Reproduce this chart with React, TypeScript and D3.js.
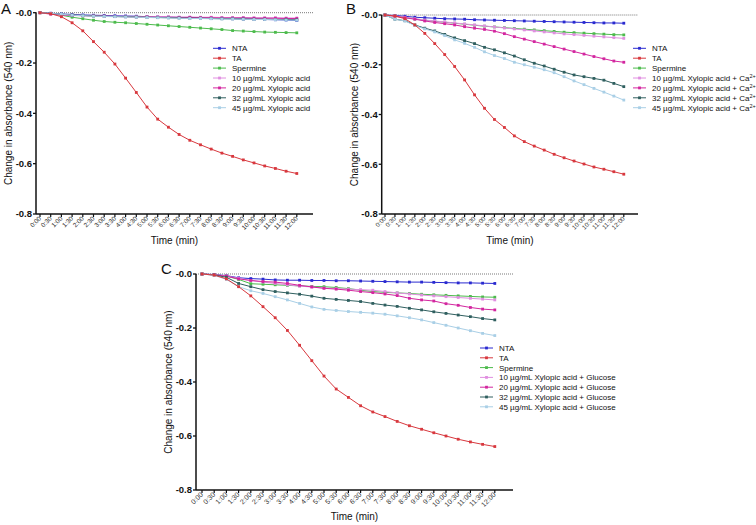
import React from 'react';
import * as d3 from 'd3';

const timeLabels = ['0:00','0:30','1:00','1:30','2:00','2:30','3:00','3:30','4:00','4:30','5:00','5:30','6:00','6:30','7:00','7:30','8:00','8:30','9:00','9:30','10:00','10:30','11:00','11:30','12:00'];
const yTicks = [0, -0.2, -0.4, -0.6, -0.8];
const yTickLabels = ['-0.0', '-0.2', '-0.4', '-0.6', '-0.8'];
const seriesNames = ['NTA', 'TA', 'Spermine', '10 µg/mL Xylopic acid', '20 µg/mL Xylopic acid', '32 µg/mL Xylopic acid', '45 µg/mL Xylopic acid'];
const seriesColors = ['#2a2ad0', '#d8383e', '#4cbb4c', '#e08ee0', '#d3269f', '#2f5f5f', '#a9cfe6'];

// Panel A
const ntaA = [0,-0.002,-0.005,-0.007,-0.009,-0.01,-0.011,-0.012,-0.013,-0.014,-0.016,-0.017,-0.018,-0.019,-0.02,-0.021,-0.022,-0.023,-0.024,-0.025,-0.026,-0.027,-0.028,-0.029,-0.031];
const taA = [0,-0.004,-0.016,-0.04,-0.072,-0.115,-0.157,-0.204,-0.26,-0.317,-0.375,-0.423,-0.455,-0.484,-0.507,-0.525,-0.542,-0.558,-0.571,-0.585,-0.597,-0.609,-0.619,-0.63,-0.639];
const spermA = [0,-0.004,-0.01,-0.018,-0.024,-0.03,-0.035,-0.038,-0.04,-0.043,-0.046,-0.049,-0.052,-0.055,-0.058,-0.061,-0.064,-0.067,-0.071,-0.073,-0.075,-0.077,-0.078,-0.079,-0.08];
const x10A = [0,-0.003,-0.007,-0.009,-0.011,-0.012,-0.013,-0.014,-0.014,-0.015,-0.015,-0.016,-0.016,-0.017,-0.017,-0.018,-0.018,-0.019,-0.019,-0.019,-0.02,-0.02,-0.02,-0.021,-0.021];
const x20A = [0,-0.006,-0.009,-0.011,-0.012,-0.013,-0.014,-0.015,-0.016,-0.017,-0.017,-0.018,-0.018,-0.019,-0.019,-0.02,-0.02,-0.021,-0.021,-0.021,-0.022,-0.022,-0.022,-0.023,-0.023];
const x32A = [0,-0.003,-0.006,-0.009,-0.011,-0.013,-0.014,-0.015,-0.016,-0.017,-0.018,-0.019,-0.02,-0.021,-0.022,-0.022,-0.023,-0.024,-0.024,-0.025,-0.026,-0.026,-0.027,-0.027,-0.028];
const x45A = [0,-0.003,-0.006,-0.01,-0.012,-0.014,-0.015,-0.016,-0.017,-0.018,-0.019,-0.02,-0.021,-0.022,-0.023,-0.023,-0.024,-0.025,-0.025,-0.026,-0.027,-0.027,-0.028,-0.029,-0.03];

// Panel B (+ Ca2+)
const ntaB = [0,-0.002,-0.005,-0.009,-0.011,-0.013,-0.015,-0.016,-0.017,-0.019,-0.02,-0.021,-0.022,-0.023,-0.024,-0.025,-0.026,-0.027,-0.028,-0.029,-0.03,-0.031,-0.032,-0.032,-0.033];
const taB = [0,-0.004,-0.015,-0.04,-0.074,-0.115,-0.159,-0.207,-0.261,-0.321,-0.375,-0.42,-0.452,-0.486,-0.509,-0.527,-0.543,-0.56,-0.574,-0.587,-0.599,-0.611,-0.62,-0.63,-0.64];
const spermB = [0,-0.004,-0.01,-0.016,-0.021,-0.025,-0.029,-0.033,-0.037,-0.041,-0.045,-0.048,-0.051,-0.054,-0.057,-0.06,-0.063,-0.066,-0.069,-0.071,-0.073,-0.075,-0.077,-0.079,-0.08];
const x10B = [0,-0.004,-0.009,-0.015,-0.02,-0.024,-0.028,-0.032,-0.036,-0.04,-0.044,-0.048,-0.052,-0.056,-0.06,-0.064,-0.068,-0.072,-0.076,-0.079,-0.082,-0.085,-0.088,-0.091,-0.094];
const x20B = [0,-0.005,-0.011,-0.017,-0.024,-0.03,-0.035,-0.04,-0.047,-0.053,-0.058,-0.065,-0.075,-0.087,-0.097,-0.107,-0.117,-0.127,-0.137,-0.147,-0.157,-0.167,-0.176,-0.185,-0.19];
const x32B = [0,-0.017,-0.023,-0.04,-0.053,-0.064,-0.078,-0.092,-0.103,-0.115,-0.13,-0.14,-0.152,-0.165,-0.18,-0.194,-0.205,-0.218,-0.23,-0.241,-0.248,-0.255,-0.262,-0.275,-0.288];
const x45B = [0,-0.017,-0.024,-0.042,-0.056,-0.068,-0.083,-0.1,-0.114,-0.13,-0.148,-0.163,-0.175,-0.19,-0.2,-0.21,-0.22,-0.232,-0.248,-0.265,-0.28,-0.295,-0.31,-0.326,-0.342];

// Panel C (+ Glucose)
const ntaC = [0,-0.002,-0.006,-0.014,-0.017,-0.019,-0.022,-0.023,-0.023,-0.024,-0.024,-0.025,-0.025,-0.026,-0.027,-0.028,-0.029,-0.03,-0.03,-0.031,-0.032,-0.033,-0.033,-0.034,-0.035];
const taC = [0,-0.004,-0.018,-0.047,-0.081,-0.121,-0.162,-0.209,-0.264,-0.321,-0.378,-0.426,-0.457,-0.488,-0.511,-0.528,-0.546,-0.562,-0.575,-0.588,-0.6,-0.612,-0.622,-0.631,-0.639];
const spermC = [0,-0.003,-0.008,-0.02,-0.036,-0.038,-0.04,-0.042,-0.044,-0.046,-0.047,-0.05,-0.054,-0.06,-0.065,-0.068,-0.07,-0.072,-0.075,-0.077,-0.079,-0.081,-0.083,-0.085,-0.086];
const x10C = [0,-0.003,-0.007,-0.016,-0.024,-0.03,-0.035,-0.04,-0.045,-0.048,-0.052,-0.054,-0.056,-0.058,-0.06,-0.065,-0.07,-0.074,-0.078,-0.081,-0.084,-0.087,-0.09,-0.093,-0.096];
const x20C = [0,-0.003,-0.008,-0.018,-0.024,-0.028,-0.03,-0.035,-0.042,-0.048,-0.053,-0.056,-0.06,-0.065,-0.069,-0.074,-0.08,-0.09,-0.096,-0.1,-0.11,-0.116,-0.124,-0.13,-0.133];
const x32C = [0,-0.004,-0.012,-0.035,-0.047,-0.058,-0.065,-0.07,-0.075,-0.082,-0.09,-0.094,-0.098,-0.102,-0.109,-0.115,-0.12,-0.127,-0.133,-0.14,-0.146,-0.152,-0.158,-0.165,-0.17];
const x45C = [0,-0.005,-0.02,-0.047,-0.062,-0.072,-0.084,-0.096,-0.109,-0.122,-0.131,-0.135,-0.139,-0.142,-0.145,-0.149,-0.155,-0.162,-0.17,-0.18,-0.19,-0.2,-0.21,-0.22,-0.228];

const FONT = '"Liberation Sans", Arial, Helvetica, sans-serif';

type PanelCfg = {
  letter: string;
  axisX: number; x0: number; x1: number; axisEnd: number;
  yTop: number; yBot: number;
  letterX: number; letterY: number;
  ylabelX: number; timeY: number;
  legX: number; legY: number; legDy: number;
  xTickFont: number;
  series: number[][];
  suffix: 'none' | 'ca' | 'glc';
};

const panels: PanelCfg[] = [
  { letter: 'A', axisX: 36, x0: 40, x1: 296.8, axisEnd: 313, yTop: 12.7, yBot: 214, letterX: 1, letterY: 14, ylabelX: 12, timeY: 244, legX: 213, legY: 48.3, legDy: 9.9, xTickFont: 6.4, series: [ntaA, taA, spermA, x10A, x20A, x32A, x45A], suffix: 'none' },
  { letter: 'B', axisX: 381.7, x0: 385, x1: 623.8, axisEnd: 638, yTop: 15, yBot: 214, letterX: 346, letterY: 14, ylabelX: 358, timeY: 244, legX: 633, legY: 48.3, legDy: 9.9, xTickFont: 6.2, series: [ntaB, taB, spermB, x10B, x20B, x32B, x45B], suffix: 'ca' },
  { letter: 'C', axisX: 196, x0: 202, x1: 494.8, axisEnd: 513, yTop: 274, yBot: 490, letterX: 161, letterY: 274, ylabelX: 172, timeY: 520, legX: 480, legY: 348, legDy: 9.8, xTickFont: 7, series: [ntaC, taC, spermC, x10C, x20C, x32C, x45C], suffix: 'glc' },
];

function LegendLabel({ name, idx, suffix }: { name: string; idx: number; suffix: string }) {
  if (idx < 3 || suffix === 'none') return <>{name}</>;
  if (suffix === 'glc') return <>{name + ' + Glucose'}</>;
  return (
    <>
      {name + ' + Ca'}
      <tspan fontSize={5.5} dy={-3}>2+</tspan>
    </>
  );
}

function Panel({ p }: { p: PanelCfg }) {
  const x = d3.scalePoint<string>().domain(timeLabels).range([p.x0, p.x1]);
  const y = d3.scaleLinear().domain([0, -0.8]).range([p.yTop, p.yBot]);
  const line = d3.line<number>().x((_, i) => x(timeLabels[i]) as number).y((d) => y(d));
  const midY = (p.yTop + p.yBot) / 2;
  const midX = (p.axisX + p.axisEnd) / 2;
  const order = [0, 2, 3, 4, 5, 6, 1];
  return (
    <g fontFamily={FONT}>
      <text x={p.letterX} y={p.letterY} fontSize={15} fill="#111">{p.letter}</text>
      <line x1={p.axisX} x2={p.axisEnd} y1={y(0)} y2={y(0)} stroke="#555" strokeWidth={0.8} strokeDasharray="1,1" />
      {order.map((si) => (
        <g key={si}>
          <path d={line(p.series[si]) || ''} fill="none" stroke={seriesColors[si]} strokeWidth={1} />
          {p.series[si].map((v, i) => (
            <rect key={i} x={(x(timeLabels[i]) as number) - 1.4} y={y(v) - 1.4} width={2.8} height={2.8} fill={seriesColors[si]} />
          ))}
        </g>
      ))}
      <line x1={p.axisX} x2={p.axisX} y1={p.yTop} y2={p.yBot} stroke="#111" strokeWidth={1.5} />
      {yTicks.map((t, i) => (
        <g key={t}>
          <line x1={p.axisX - 3} x2={p.axisX} y1={y(t)} y2={y(t)} stroke="#111" strokeWidth={1.3} />
          <text x={p.axisX - 4} y={y(t) + 3.3} fontSize={9.5} fontWeight="bold" textAnchor="end" fill="#111">{yTickLabels[i]}</text>
        </g>
      ))}
      <line x1={p.axisX} x2={p.axisEnd} y1={p.yBot} y2={p.yBot} stroke="#111" strokeWidth={1.5} />
      {timeLabels.map((t) => {
        const xx = x(t) as number;
        return (
          <g key={t}>
            <line x1={xx} x2={xx} y1={p.yBot} y2={p.yBot + 3} stroke="#111" strokeWidth={1.2} />
            <text transform={`translate(${xx + 1.5},${p.yBot + 5}) rotate(-45)`} fontSize={p.xTickFont} textAnchor="end" fill="#333">{t}</text>
          </g>
        );
      })}
      <text x={midX} y={p.timeY} fontSize={10} textAnchor="middle" fill="#111">Time (min)</text>
      <text transform={`translate(${p.ylabelX},${midY}) rotate(-90)`} fontSize={10} textAnchor="middle" fill="#111">Change in absorbance (540 nm)</text>
      {seriesNames.map((n, i) => {
        const ly = p.legY + i * p.legDy;
        return (
          <g key={n}>
            <line x1={p.legX} x2={p.legX + 13} y1={ly} y2={ly} stroke={seriesColors[i]} strokeWidth={1} />
            <rect x={p.legX + 6.5 - 1.4} y={ly - 1.4} width={2.8} height={2.8} fill={seriesColors[i]} />
            <text x={p.legX + 19} y={ly + 3} fontSize={8} fill="#111">
              <LegendLabel name={n} idx={i} suffix={p.suffix} />
            </text>
          </g>
        );
      })}
    </g>
  );
}

export default function App() {
  return (
    <svg width={756} height={525} viewBox="0 0 756 525" style={{ position: 'absolute', left: 0, top: 0, background: '#fff' }}>
      <rect width={756} height={525} fill="#fff" />
      {panels.map((p) => <Panel key={p.letter} p={p} />)}
    </svg>
  );
}
